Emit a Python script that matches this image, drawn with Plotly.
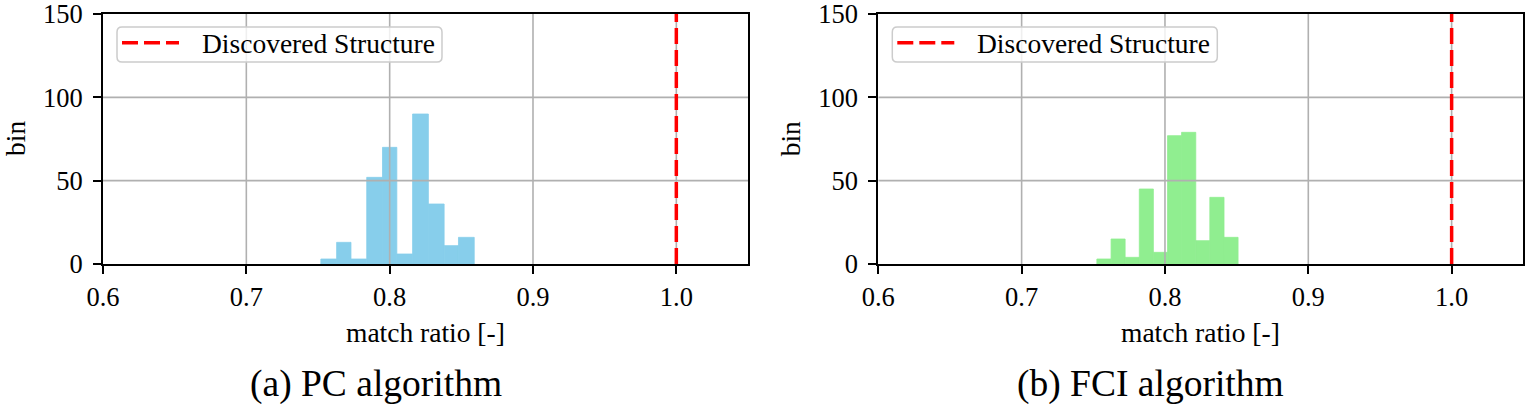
import plotly.graph_objects as go

# ---------------- data ----------------
pc_bin_edges = [0.752, 0.763, 0.773, 0.784, 0.795, 0.805, 0.816, 0.827, 0.838, 0.848, 0.859]
pc_counts = [3, 13, 3, 52, 70, 6, 90, 36, 11, 16]

fci_bin_edges = [0.7525, 0.7624, 0.7722, 0.7821, 0.7919, 0.8018, 0.8116, 0.8215, 0.8313, 0.8412, 0.851]
fci_counts = [3, 15, 4, 45, 7, 77, 79, 14, 40, 16]

discovered_ratio = 1.0
legend_label = "Discovered Structure"
x_ticks = [0.6, 0.7, 0.8, 0.9, 1.0]
x_tick_labels = ["0.6", "0.7", "0.8", "0.9", "1.0"]
y_ticks = [0, 50, 100, 150]
y_tick_labels = ["0", "50", "100", "150"]
x_range = [0.6, 1.05]
y_range = [0, 150]
captions = ["(a) PC algorithm", "(b) FCI algorithm"]
x_title = "match ratio [-]"
y_title = "bin"

# ---------------- styling ----------------
W, H = 1528, 404
FONT = "Liberation Serif"
TICK_SIZE = 26.5
LABEL_SIZE = 27.5
CAP_SIZE = 37.5
GRID_COLOR = "#b0b0b0"
RED = "#ff0000"
colors = ["#87CEEB", "#90EE90"]

panels = [
    dict(edges=pc_bin_edges, counts=pc_counts, x0=103, x1=748, color=colors[0], cap=captions[0]),
    dict(edges=fci_bin_edges, counts=fci_counts, x0=878.3, x1=1523.3, color=colors[1], cap=captions[1]),
]
top_px, bot_px = 14, 264

def px_x(v):
    return v / W

def px_y(v):
    return 1 - v / H

def conv(path_str):
    toks = path_str.replace(",", " , ").split()
    out = []
    is_x = True
    for t in toks:
        if t in ("M", "L", "Q", "Z"):
            out.append(t)
            is_x = True
        elif t == ",":
            out.append(",")
            is_x = False
        else:
            v = float(t)
            if is_x:
                out.append(f"{px_x(v):.6f}")
            else:
                out.append(f"{px_y(v):.6f}")
                is_x = True
    return " ".join(out).replace(" , ", ",")

fig = go.Figure()
shapes = []
annotations = []

for i, p in enumerate(panels):
    xa = "x" if i == 0 else "x2"
    ya = "y" if i == 0 else "y2"
    e = p["edges"]
    centers = [(e[k] + e[k + 1]) / 2 for k in range(len(e) - 1)]
    widths = [(e[k + 1] - e[k]) for k in range(len(e) - 1)]
    fig.add_trace(go.Bar(
        x=centers, y=p["counts"], width=widths,
        marker=dict(color=p["color"], line=dict(width=0.8, color=p["color"])),
        xaxis=xa, yaxis=ya, showlegend=False, hoverinfo="x+y",
    ))

    axis_common = dict(
        showline=True, linecolor="black", linewidth=2, mirror=True,
        ticks="outside", ticklen=8, tickwidth=2, tickcolor="black",
        showgrid=False, zeroline=False, automargin=False,
        ticklabeloverflow="allow",
        tickfont=dict(family=FONT, size=TICK_SIZE, color="black"),
    )
    xkey = "xaxis" if i == 0 else "xaxis2"
    ykey = "yaxis" if i == 0 else "yaxis2"
    fig.update_layout(**{
        xkey: dict(axis_common, domain=[px_x(p["x0"]), px_x(p["x1"])], range=x_range,
                   tickvals=x_ticks, ticktext=x_tick_labels, anchor=ya),
        ykey: dict(axis_common, domain=[px_y(bot_px), px_y(top_px)], range=y_range,
                   tickvals=y_ticks, ticktext=y_tick_labels, anchor=xa,
                   ticklabelstandoff=5),
    })

    # grid lines (drawn over the bars, like the reference)
    for xv in x_ticks:
        if xv == x_range[0]:
            continue
        shapes.append(dict(type="line", xref=xa, yref=ya, x0=xv, x1=xv, y0=y_range[0], y1=y_range[1],
                           line=dict(color=GRID_COLOR, width=1.6), layer="above"))
    for yv in y_ticks:
        if yv in y_range:
            continue
        shapes.append(dict(type="line", xref=xa, yref=ya, x0=x_range[0], x1=x_range[1], y0=yv, y1=yv,
                           line=dict(color=GRID_COLOR, width=1.6), layer="above"))
    # discovered structure vertical line
    shapes.append(dict(type="line", xref=xa, yref=ya, x0=discovered_ratio, x1=discovered_ratio,
                       y0=y_range[0], y1=y_range[1],
                       line=dict(color=RED, width=3.5, dash="16px,6px"), layer="above"))

    # legend box (manual)
    lx0 = p["x0"] + 14
    lx1 = lx0 + 325
    ly0, ly1 = 27, 62
    r = 5
    path = (f"M {lx0+r},{ly0} L {lx1-r},{ly0} Q {lx1},{ly0} {lx1},{ly0+r} "
            f"L {lx1},{ly1-r} Q {lx1},{ly1} {lx1-r},{ly1} L {lx0+r},{ly1} "
            f"Q {lx0},{ly1} {lx0},{ly1-r} L {lx0},{ly0+r} Q {lx0},{ly0} {lx0+r},{ly0} Z")
    shapes.append(dict(type="path", xref="paper", yref="paper", path=conv(path),
                       fillcolor="rgba(255,255,255,0.8)", line=dict(color="#cccccc", width=1.5),
                       layer="above"))
    shapes.append(dict(type="line", xref="paper", yref="paper",
                       x0=px_x(lx0 + 5), x1=px_x(lx0 + 62), y0=px_y(42.7), y1=px_y(42.7),
                       line=dict(color=RED, width=3.5, dash="16px,6px"), layer="above"))
    annotations.append(dict(text=legend_label, xref="paper", yref="paper",
                            x=px_x(lx0 + 83), y=px_y(44), xanchor="left", yanchor="middle",
                            showarrow=False, font=dict(family=FONT, size=LABEL_SIZE, color="black")))

    cx = (p["x0"] + p["x1"]) / 2
    annotations.append(dict(text=x_title, xref="paper", yref="paper", x=px_x(cx), y=px_y(332),
                            xanchor="center", yanchor="middle", showarrow=False,
                            font=dict(family=FONT, size=LABEL_SIZE, color="black")))
    annotations.append(dict(text=y_title, xref="paper", yref="paper", x=px_x(p["x0"] - 88), y=px_y(139),
                            xanchor="center", yanchor="middle", showarrow=False, textangle=-90,
                            font=dict(family=FONT, size=LABEL_SIZE, color="black")))
    annotations.append(dict(text=p["cap"], xref="paper", yref="paper", x=px_x(cx - 50), y=px_y(384),
                            xanchor="center", yanchor="middle", showarrow=False,
                            font=dict(family=FONT, size=CAP_SIZE, color="black")))

fig.update_layout(
    width=W, height=H, margin=dict(l=0, r=0, t=0, b=0),
    paper_bgcolor="white", plot_bgcolor="white",
    shapes=shapes, annotations=annotations, showlegend=False,
    font=dict(family=FONT, color="black"),
)

fig.write_html("out.html",
               config={"displayModeBar": False},
               post_script="document.body.style.margin='0';document.body.style.padding='0';"
                           "document.body.style.overflow='hidden';")
